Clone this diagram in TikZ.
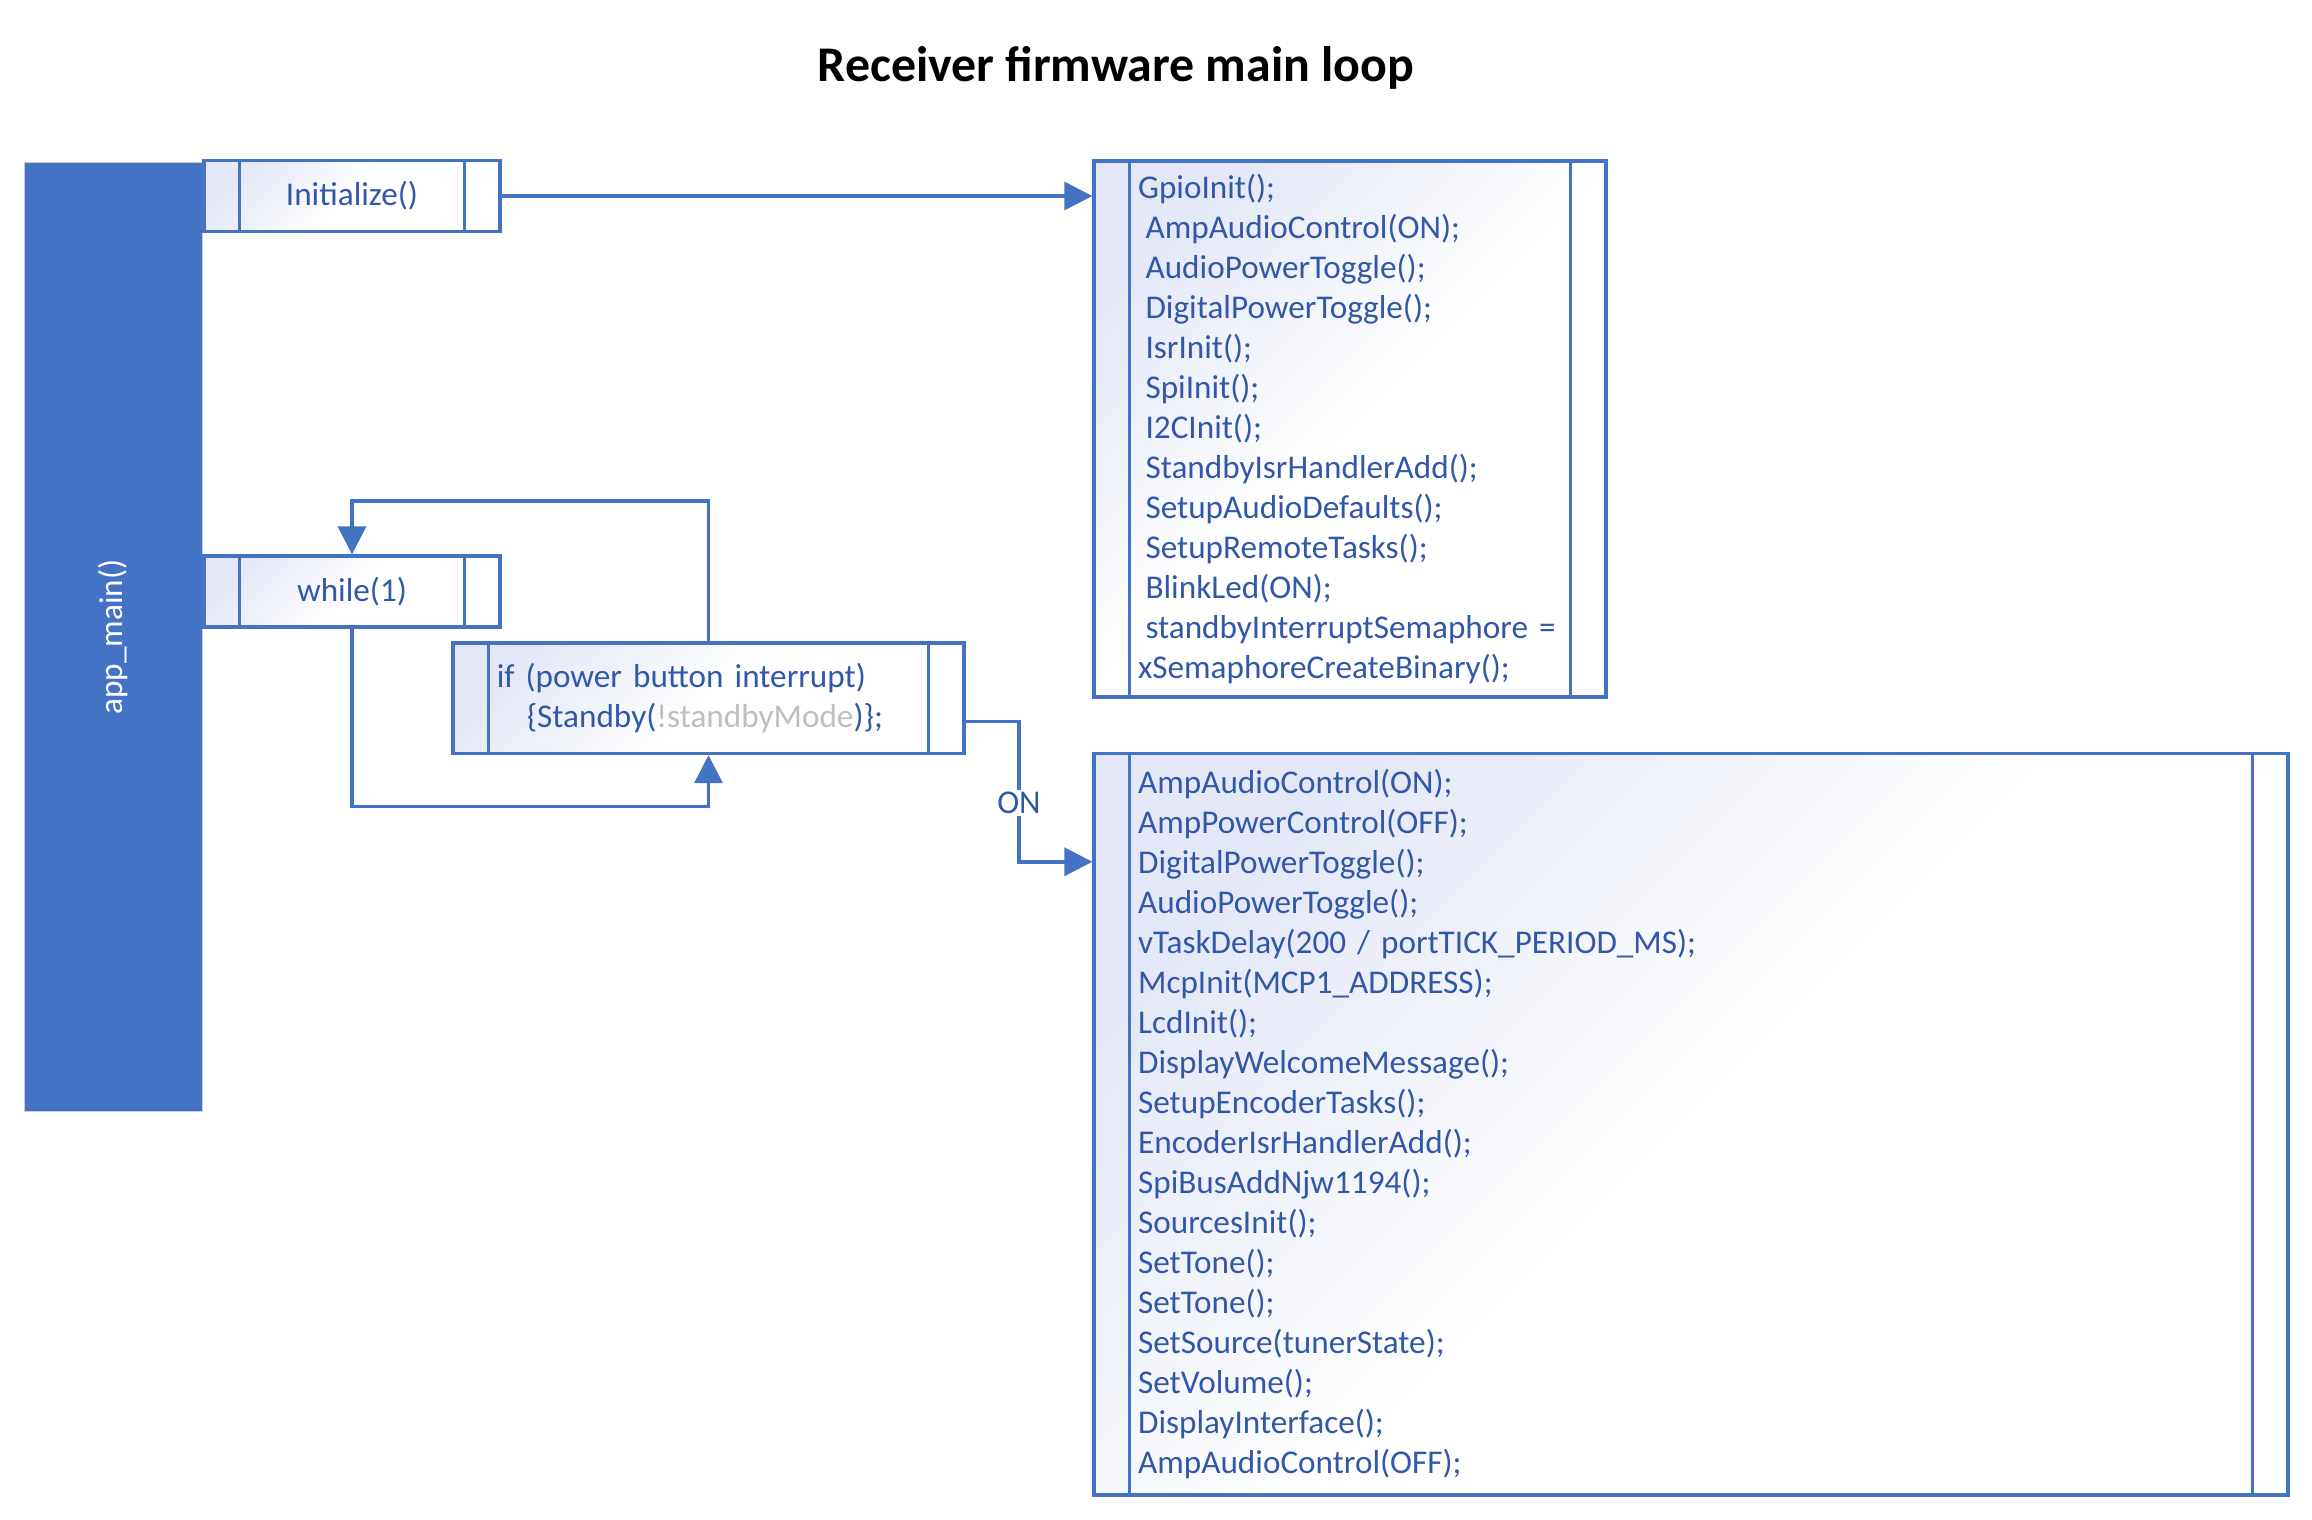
\documentclass[tikz,border=0pt]{standalone}
\usepackage{fontspec}
\setmainfont{Carlito}
\usepackage{xcolor}
\usetikzlibrary{arrows.meta}
\definecolor{linecol}{HTML}{4472C4}
\definecolor{textcol}{HTML}{3158A8}
\definecolor{boxtint}{HTML}{E4E8F6}
\definecolor{greytext}{HTML}{BFBFBF}
\newcommand{\codefont}{\fontsize{18.9}{22.76}\selectfont}
\newcommand{\lsp}{\hspace*{0.226em}}
\tikzset{
  procbox/.style={rectangle, draw=linecol, line width=0.07cm, inner sep=0pt,
    top color=boxtint, bottom color=white, middle color=white, shading angle=45,
    text=textcol, font=\codefont,
    path picture={
      \draw[linecol, line width=0.07cm]
        ([xshift=0.71cm]path picture bounding box.north west) -- ([xshift=0.71cm]path picture bounding box.south west)
        ([xshift=-0.71cm]path picture bounding box.north east) -- ([xshift=-0.71cm]path picture bounding box.south east);}},
  smallbox/.style={procbox, minimum width=5.93cm, minimum height=1.416cm, align=center},
  codebox/.style={procbox, align=left},
  flow/.style={draw=linecol, line width=0.07cm, -{Triangle[length=0.56cm, width=0.56cm]}}
}

\begin{document}
\begin{tikzpicture}[x=0.02cm, y=-0.02cm]
  \useasboundingbox (0,0) rectangle (2312,1519);

  \node[font=\bfseries\fontsize{28.4}{34}\selectfont, anchor=base] (title) at (1116,81) {Receiver firmware main loop};

  % main task bar
  \node[rectangle, fill=linecol, draw=black!20, line width=0.02cm, rotate=90,
        minimum width=19cm, minimum height=3.55cm, text=white, font=\codefont] (appmain) at (113.5,637) {app\_main()};

  % Left column
  \node(init) [smallbox] at (352,196) {Initialize()};
  \node(loop) [smallbox] at (352,591.5) {while(1)};
  \node(ifpower) [codebox, minimum width=10.23cm, minimum height=2.21cm, text width=8.47cm] at (708.5,698.2)
    {if (power button interrupt)\\\lsp\lsp\lsp\lsp\{Standby({\color{greytext}!standbyMode})\};};

  % Init sequence
  \node(gpio) [codebox, minimum width=10.24cm, minimum height=10.73cm, text width=8.48cm] at (1350,429)
    {GpioInit();\\
     \lsp AmpAudioControl(ON);\\
     \lsp AudioPowerToggle();\\
     \lsp DigitalPowerToggle();\\
     \lsp IsrInit();\\
     \lsp SpiInit();\\
     \lsp I2CInit();\\
     \lsp StandbyIsrHandlerAdd();\\
     \lsp SetupAudioDefaults();\\
     \lsp SetupRemoteTasks();\\
     \lsp BlinkLed(ON);\\
     \lsp standbyInterruptSemaphore =\\
     xSemaphoreCreateBinary();};

  % Power on sequence
  \node(poweron) [codebox, minimum width=23.88cm, minimum height=14.83cm, text width=22.12cm] at (1691,1124.2)
    {AmpAudioControl(ON);\\
     AmpPowerControl(OFF);\\
     DigitalPowerToggle();\\
     AudioPowerToggle();\\
     vTaskDelay(200 / portTICK\_PERIOD\_MS);\\
     McpInit(MCP1\_ADDRESS);\\
     LcdInit();\\
     DisplayWelcomeMessage();\\
     SetupEncoderTasks();\\
     EncoderIsrHandlerAdd();\\
     SpiBusAddNjw1194();\\
     SourcesInit();\\
     SetTone();\\
     SetTone();\\
     SetSource(tunerState);\\
     SetVolume();\\
     DisplayInterface();\\
     AmpAudioControl(OFF);};

  % Draw connectors
  \draw[flow] (init.east) -- (init.east -| gpio.west);
  \draw[flow] (ifpower.north) -- ++(0,-140) -| (loop.north);
  \draw[flow] (loop.south) -- ++(0,178) -| (ifpower.south);
  \draw[flow] ([yshift=-0.47cm]ifpower.east) -- ++(53,0) |- ([yshift=-2.2cm]poweron.north west)
    node[pos=0.29, fill=white, text=textcol, font=\codefont, inner sep=1pt] (onlabel) {ON};
\end{tikzpicture}
\end{document}
